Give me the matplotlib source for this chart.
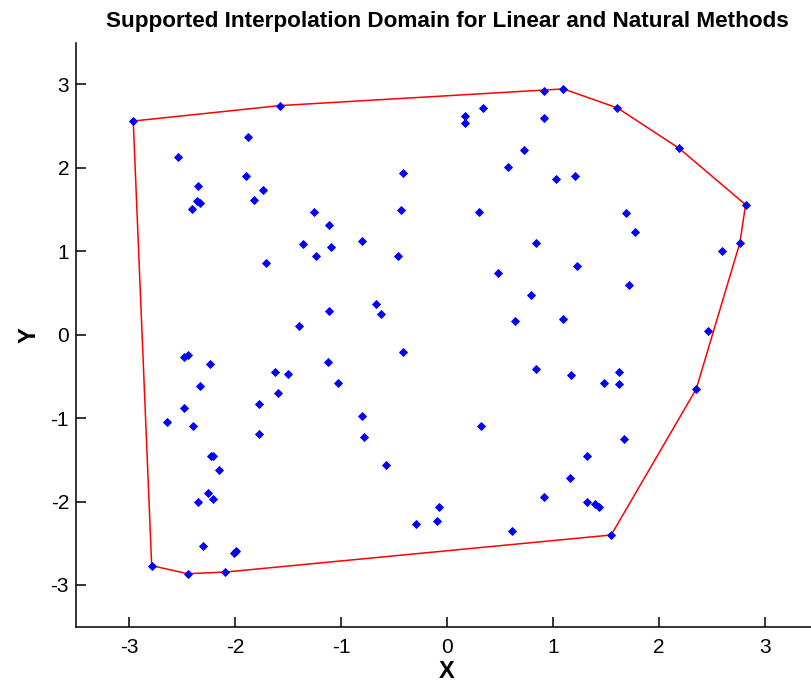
import numpy as np
import matplotlib
matplotlib.use("Agg")
import matplotlib.pyplot as plt

# scattered sample points
x = [-2.96, -1.577, -1.879, -2.54, -1.895, -2.346, -1.737, -1.817, -2.36, -2.33,
     -2.41, -1.253, -1.363, 0.919, 0.336, 0.173, 0.173, 0.919, 0.727, 0.579,
     -0.416, -0.432, 0.305, -1.109, -1.093, -0.806, 0.837, 1.098, 1.608, 2.19,
     2.817, 1.032, 1.209, 1.690, 1.769, 2.763, 2.461, 2.351, 2.59, 1.224,
     1.721, 0.793, 1.095, 0.84, 1.174, 1.482, 1.624, 1.624, 1.674, -1.237,
     -0.466, 0.484, 0.645, -1.109, -0.674, -0.627, -1.395, -0.416, -1.124, -1.026,
     -0.806, -0.787, 0.321, -1.703, -2.481, -2.443, -2.232, -1.621, -1.499, -2.333,
     -1.593, -2.478, -1.77, -2.638, -2.398, -1.77, -2.223, -2.204, -2.153, -2.251,
     -2.204, -2.348, -2.301, -2.011, -1.99, -2.786, -2.446, -2.091, -0.58, -0.076,
     -0.094, -0.293, 0.61, 0.919, 1.158, 1.322, 1.322, 1.40, 1.432, 1.549]
y = [2.56, 2.745, 2.373, 2.125, 1.905, 1.78, 1.737, 1.612, 1.597, 1.576,
     1.51, 1.473, 1.089, 2.914, 2.717, 2.617, 2.533, 2.597, 2.209, 2.005,
     1.941, 1.492, 1.473, 1.309, 1.048, 1.125, 1.104, 2.945, 2.717, 2.233,
     1.557, 1.861, 1.901, 1.453, 1.228, 1.10, 0.04, -0.652, 1.0, 0.82,
     0.592, 0.472, 0.184, -0.408, -0.488, -0.576, -0.452, -0.592, -1.248, 0.94,
     0.94, 0.736, 0.164, 0.288, 0.368, 0.244, 0.1, -0.208, -0.328, -0.576,
     -0.98, -1.228, -1.089, 0.856, -0.268, -0.248, -0.348, -0.452, -0.472, -0.612,
     -0.696, -0.88, -0.836, -1.044, -1.089, -1.188, -1.453, -1.453, -1.617, -1.897,
     -1.965, -2.005, -2.533, -2.617, -2.593, -2.769, -2.865, -2.845, -1.557, -2.069,
     -2.229, -2.273, -2.349, -1.941, -1.72, -1.453, -2.005, -2.025, -2.069, -2.401]

ticks = [-3, -2, -1, 0, 1, 2, 3]


def convex_hull(px, py):
    pts = sorted(set(zip(px, py)))

    def cross(o, a, b):
        return (a[0] - o[0]) * (b[1] - o[1]) - (a[1] - o[1]) * (b[0] - o[0])

    lower = []
    for p in pts:
        while len(lower) >= 2 and cross(lower[-2], lower[-1], p) <= 0:
            lower.pop()
        lower.append(p)
    upper = []
    for p in reversed(pts):
        while len(upper) >= 2 and cross(upper[-2], upper[-1], p) <= 0:
            upper.pop()
        upper.append(p)
    hull = lower[:-1] + upper[:-1]
    hull.append(hull[0])
    return np.array(hull)


hull = convex_hull(x, y)

plt.rcParams['font.family'] = ['Liberation Sans', 'DejaVu Sans']
plt.rcParams['axes.unicode_minus'] = False

fig = plt.figure(figsize=(8.12, 6.85), dpi=100)
ax = fig.add_axes([76 / 812, 1 - 626.7 / 685, 742 / 812, (626.7 - 42.6) / 685])

ax.plot(hull[:, 0], hull[:, 1], '-', color='#ff0000', lw=1.1)
ax.plot(x, y, 'D', color='#0000ff', markersize=4.4, markeredgewidth=0.6, linestyle='none')

ax.set_xlim(-3.5, 3.5)
ax.set_ylim(-3.5, 3.5)
ax.set_xticks(ticks)
ax.set_yticks(ticks)
ax.spines['top'].set_visible(False)
ax.spines['right'].set_visible(False)
ax.spines['left'].set_linewidth(1.1)
ax.spines['bottom'].set_linewidth(1.1)
ax.tick_params(direction='in', length=7, width=1.1, labelsize=15)
ax.tick_params(axis='x', pad=8)
ax.tick_params(axis='y', pad=5)

ax.set_title("Supported Interpolation Domain for Linear and Natural Methods",
             fontsize=16.2, fontweight='bold', pad=11)
ax.set_xlabel("X", fontsize=17, fontweight='bold', labelpad=2.5)
ax.set_ylabel("Y", fontsize=17, fontweight='bold', labelpad=7)

fig.savefig("out.png", dpi=100)
